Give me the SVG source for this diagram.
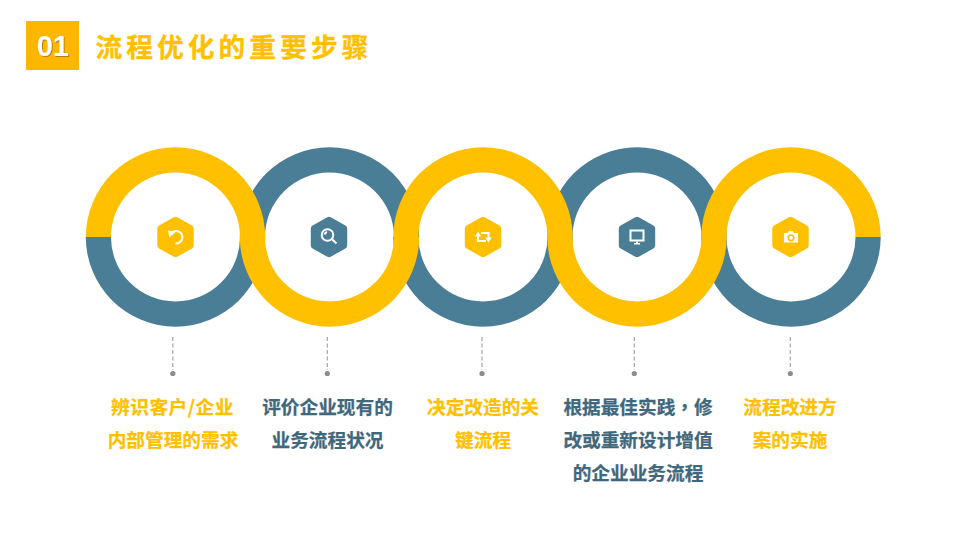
<svg xmlns="http://www.w3.org/2000/svg" width="960" height="540" viewBox="0 0 960 540">
<style>
text{font-family:"Noto Sans CJK SC","Noto Sans",sans-serif;font-weight:700;text-anchor:middle}
.lbl{font-size:18.67px;stroke-width:.25px}
.y{fill:#FFC000;stroke:#FFC000}.b{fill:#3F687D;stroke:#3F687D}
.hy{fill:#FFC000;stroke:#FFC000}.hb{fill:#4A7E96;stroke:#4A7E96}
.hex{stroke-width:7;stroke-linejoin:round}
.ry{fill:#FFC000}.rb{fill:#4A7E96}
.ic{fill:none;stroke:#fff;stroke-width:2}
.icf{fill:#fff}
.dash{stroke:#A6A6A6;stroke-width:1.2;stroke-dasharray:4 2.5;fill:none}
.dot{fill:#8C8C8C}
</style>
<defs>
<path id="top" d="M-89.700 0A89.700 89.700 0 0 1 89.700 0H64.500A64.500 64.500 0 0 0 -64.500 0Z"/>
<path id="bot" d="M-89.700 0A89.700 89.700 0 0 0 89.700 0H64.500A64.500 64.500 0 0 1 -64.500 0Z"/>
<path id="hexa" d="M0 -16.700L14.700 -8.500V8.500L0 16.700L-14.700 8.500V-8.500Z"/>
<filter id="sh" x="-20%" y="-20%" width="140%" height="140%"><feDropShadow dx="1" dy="1" stdDeviation=".5" flood-color="#7a5a00" flood-opacity=".6"/></filter>
</defs>
<rect id="badge-box" x="26" y="21" width="53" height="49" fill="#FFB600"/>
<g id="header">
<text x="52.800" y="56" font-size="29" fill="#fff" filter="url(#sh)" style="font-family:'Liberation Sans',sans-serif">01</text>
<text x="234" y="57" font-size="26.670" letter-spacing="4.100" stroke-width=".3" class="y">流程优化的重要步骤</text>
</g>
<g id="rings-blue">
<use href="#bot" x="175.500" y="237" class="rb"/>
<use href="#top" x="329.500" y="237" class="rb"/>
<use href="#bot" x="483" y="237" class="rb"/>
<use href="#top" x="637" y="237" class="rb"/>
<use href="#bot" x="791" y="237" class="rb"/>
</g>
<g id="rings-yellow">
<use href="#top" x="175.500" y="237" class="ry"/>
<use href="#bot" x="329.500" y="237" class="ry"/>
<use href="#top" x="483" y="237" class="ry"/>
<use href="#bot" x="637" y="237" class="ry"/>
<use href="#top" x="791" y="237" class="ry"/>
</g>
<g id="connectors">
<path class="dash" d="M172.800 337V370M327.300 337V370M482 337V370M634.300 337V370M790.300 337V370"/>
<circle class="dot" cx="172.800" cy="373.500" r="2.600"/>
<circle class="dot" cx="327.300" cy="373.500" r="2.600"/>
<circle class="dot" cx="482" cy="373.500" r="2.600"/>
<circle class="dot" cx="634.300" cy="373.500" r="2.600"/>
<circle class="dot" cx="790.300" cy="373.500" r="2.600"/>
</g>
<g id="node1">
<use href="#hexa" x="175.500" y="237" class="hex hy"/>
<path class="ic" d="M171 233.500A6.300 6.300 0 1 1 175.500 243.500" stroke-width="2.400"/>
<path class="icf" d="M168 230.500L175.500 232L169.500 237.500Z"/>
<text class="lbl y" x="172.500" y="414" letter-spacing=".55">辨识客户/企业</text>
<text class="lbl y" x="173" y="447">内部管理的需求</text>
</g>
<g id="node2">
<use href="#hexa" x="329" y="237" class="hex hb"/>
<circle class="ic" cx="327.500" cy="235" r="5.800" stroke-width="1.500"/>
<path class="ic" d="M324.500 234.500A3.500 3.500 0 0 1 327 232" stroke-width="1"/>
<path class="ic" d="M332.300 239.500L336.500 243.500" stroke-width="2.600"/>
<text class="lbl b" x="327.500" y="414">评价企业现有的</text>
<text class="lbl b" x="327.500" y="447">业务流程状况</text>
</g>
<g id="node3">
<use href="#hexa" x="483" y="237" class="hex hy"/>
<path class="ic" d="M478 235V241H486" stroke-width="1.800"/>
<path class="ic" d="M481 233H488.500V239" stroke-width="1.800"/>
<path class="icf" d="M474.800 236.500L478 231.500L481.200 236.500ZM485.300 237.500H491.700L488.500 242.500Z"/>
<text class="lbl y" x="483" y="414">决定改造的关</text>
<text class="lbl y" x="483" y="447">键流程</text>
</g>
<g id="node4">
<use href="#hexa" x="637" y="237" class="hex hb"/>
<rect class="ic" x="630.500" y="230.500" width="13" height="10" stroke-width="1.200"/>
<path class="icf" d="M636 241.500H638V243H640V244.500H634V243H636Z"/>
<text class="lbl b" x="638" y="414">根据最佳实践<tspan style="font-family:'Noto Sans CJK TC',sans-serif">，</tspan>修</text>
<text class="lbl b" x="638" y="447">改或重新设计增值</text>
<text class="lbl b" x="638" y="480">的企业业务流程</text>
</g>
<g id="node5">
<use href="#hexa" x="790.500" y="237" class="hex hy"/>
<path class="icf" fill-rule="evenodd" d="M784 233H787.500L789 231H792.500L794 233H798V242.500H784ZM791 234.200A3.600 3.600 0 1 0 791 241.400A3.600 3.600 0 1 0 791 234.200ZM791 235.800A2 2 0 1 1 791 239.800A2 2 0 1 1 791 235.800Z"/>
<text class="lbl y" x="790" y="414">流程改进方</text>
<text class="lbl y" x="790" y="447">案的实施</text>
</g>
</svg>
